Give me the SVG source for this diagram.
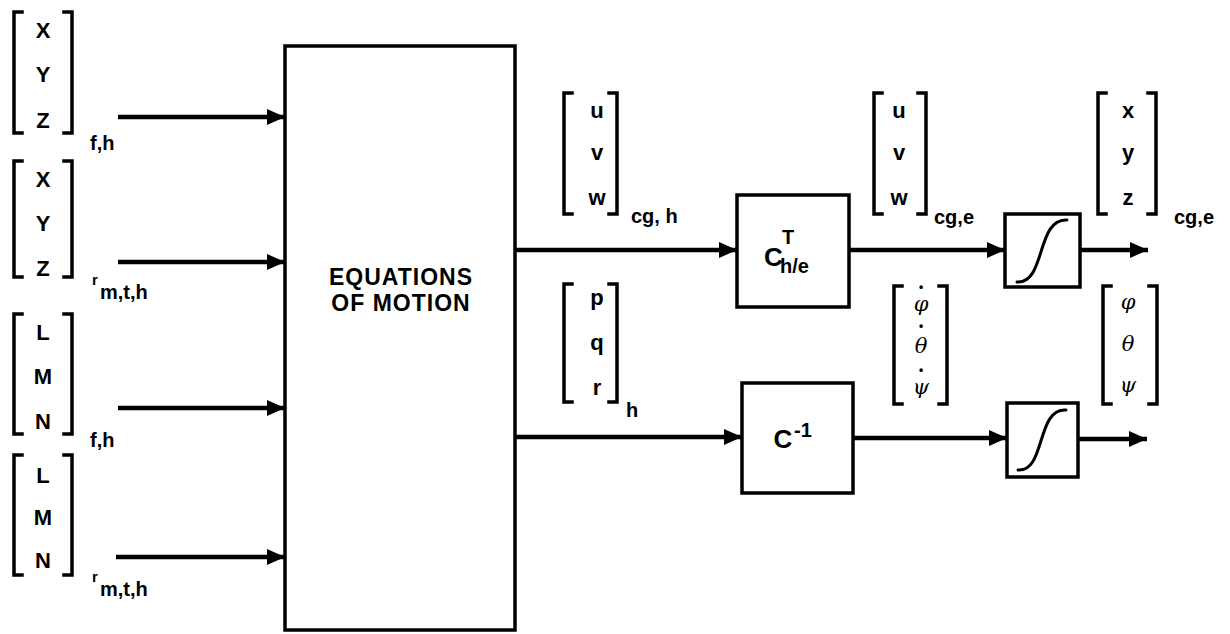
<svg xmlns="http://www.w3.org/2000/svg" width="1230" height="634" viewBox="0 0 1230 634">
<style>
.bk{fill:none;stroke:#000;stroke-width:3.5;stroke-linecap:square}
.box{fill:#fff;stroke:#000;stroke-width:3.5}
.ln{fill:none;stroke:#000;stroke-width:4.5}
.t{font-family:"Liberation Sans",Arial,sans-serif;font-weight:bold;font-size:22px;fill:#000;text-anchor:middle}
.s{font-family:"Liberation Sans",Arial,sans-serif;font-weight:bold;font-size:20px;fill:#000}
.g{font-family:"DejaVu Serif","Liberation Serif",serif;font-style:italic;font-size:21px;fill:#000;text-anchor:middle}
.d{font-family:"Liberation Sans",Arial,sans-serif;font-weight:bold;font-size:12px;fill:#000;text-anchor:middle}
.sig{fill:none;stroke:#000;stroke-width:3;stroke-linecap:round}
</style>
<defs>
<marker id="ah" markerUnits="userSpaceOnUse" markerWidth="20" markerHeight="18" refX="18" refY="8" orient="auto">
<path d="M0,0 L18,8 L0,16 z" fill="#000"/>
</marker>
</defs>

<g id="in1">
<path class="bk" d="M22,12 H14 V133 H22 M64,12 H72 V133 H64"/>
<text class="t" x="43" y="38">X</text><text class="t" x="43" y="82">Y</text><text class="t" x="43" y="128">Z</text>
<text class="s" x="90" y="150">f,h</text>
</g>
<g id="in2">
<path class="bk" d="M22,161 H14 V277 H22 M64,161 H72 V277 H64"/>
<text class="t" x="43" y="187">X</text><text class="t" x="43" y="231">Y</text><text class="t" x="43" y="276">Z</text>
<text class="s" x="92" y="285" style="font-size:15px">r</text>
<text class="s" x="100" y="299">m,t,h</text>
</g>
<g id="in3">
<path class="bk" d="M22,314 H14 V434 H22 M64,314 H72 V434 H64"/>
<text class="t" x="43" y="340">L</text><text class="t" x="43" y="384">M</text><text class="t" x="43" y="429">N</text>
<text class="s" x="90" y="447">f,h</text>
</g>
<g id="in4">
<path class="bk" d="M22,455 H14 V575 H22 M64,455 H72 V575 H64"/>
<text class="t" x="43" y="483">L</text><text class="t" x="43" y="525">M</text><text class="t" x="43" y="568">N</text>
<text class="s" x="92" y="582" style="font-size:15px">r</text>
<text class="s" x="100" y="596">m,t,h</text>
</g>

<g id="eom">
<rect class="box" x="285" y="46" width="230" height="584"/>
<text class="t" x="401" y="285" style="font-size:23px;letter-spacing:1px">EQUATIONS</text>
<text class="t" x="401" y="311" style="font-size:23px;letter-spacing:1px">OF MOTION</text>
</g>

<g id="uvw_h">
<path class="bk" d="M572,93 H564 V214 H572 M609,93 H617 V214 H609"/>
<text class="t" x="597" y="118">u</text><text class="t" x="597" y="160">v</text><text class="t" x="597" y="205">w</text>
<text class="s" x="631" y="223">cg, h</text>
</g>
<g id="pqr">
<path class="bk" d="M572,284 H564 V402 H572 M609,284 H617 V402 H609"/>
<text class="t" x="597" y="305">p</text><text class="t" x="597" y="350">q</text><text class="t" x="597" y="395">r</text>
<text class="s" x="626" y="417">h</text>
</g>

<g id="cte">
<rect class="box" x="737" y="195" width="112" height="112"/>
<text class="s" x="764" y="266" style="font-size:26px">C</text>
<text class="s" x="782" y="244">T</text>
<text class="s" x="780" y="273">h/e</text>
</g>
<g id="cinv">
<rect class="box" x="742" y="383" width="111" height="110"/>
<text class="t" x="783" y="448" style="font-size:26px">C</text>
<text class="s" x="794" y="437">-1</text>
</g>

<g id="uvw_e">
<path class="bk" d="M882,93 H874 V214 H882 M918,93 H926 V214 H918"/>
<text class="t" x="899" y="118">u</text><text class="t" x="899" y="160">v</text><text class="t" x="899" y="205">w</text>
<text class="s" x="934" y="224">cg,e</text>
</g>
<g id="rates">
<path class="bk" d="M902,286 H894 V404 H902 M939,286 H947 V404 H939"/>
<text class="d" x="921" y="291">•</text><text class="g" x="921" y="311">φ</text>
<text class="d" x="921" y="330">•</text><text class="g" x="921" y="353">θ</text>
<text class="d" x="921" y="374">•</text><text class="g" x="921" y="394">ψ</text>
</g>

<g id="int1">
<rect class="box" x="1005" y="214" width="75" height="73"/>
<path class="sig" d="M1017,282 C1046,284 1036,218 1067,220"/>
</g>
<g id="int2">
<rect class="box" x="1007" y="403" width="71" height="74"/>
<path class="sig" d="M1018,470 C1046,472 1036,408 1066,410"/>
</g>

<g id="xyz">
<path class="bk" d="M1106,93 H1098 V214 H1106 M1148,93 H1156 V214 H1148"/>
<text class="t" x="1128" y="118">x</text><text class="t" x="1128" y="160">y</text><text class="t" x="1128" y="205">z</text>
<text class="s" x="1174" y="224">cg,e</text>
</g>
<g id="angles">
<path class="bk" d="M1111,286 H1103 V404 H1111 M1149,286 H1157 V404 H1149"/>
<text class="g" x="1128" y="309">φ</text><text class="g" x="1128" y="351">θ</text><text class="g" x="1128" y="392">ψ</text>
</g>

<g id="connectors">
<line class="ln" x1="118" y1="117" x2="285" y2="117" marker-end="url(#ah)"/>
<line class="ln" x1="118" y1="262" x2="285" y2="262" marker-end="url(#ah)"/>
<line class="ln" x1="118" y1="408" x2="285" y2="408" marker-end="url(#ah)"/>
<line class="ln" x1="116" y1="557" x2="285" y2="557" marker-end="url(#ah)"/>
<line class="ln" x1="515" y1="250" x2="737" y2="250" marker-end="url(#ah)"/>
<line class="ln" x1="515" y1="437" x2="742" y2="437" marker-end="url(#ah)"/>
<line class="ln" x1="849" y1="250" x2="1005" y2="250" marker-end="url(#ah)"/>
<line class="ln" x1="853" y1="438" x2="1007" y2="438" marker-end="url(#ah)"/>
<line class="ln" x1="1080" y1="250" x2="1148" y2="250" marker-end="url(#ah)"/>
<line class="ln" x1="1078" y1="439" x2="1147" y2="439" marker-end="url(#ah)"/>
</g>
</svg>
